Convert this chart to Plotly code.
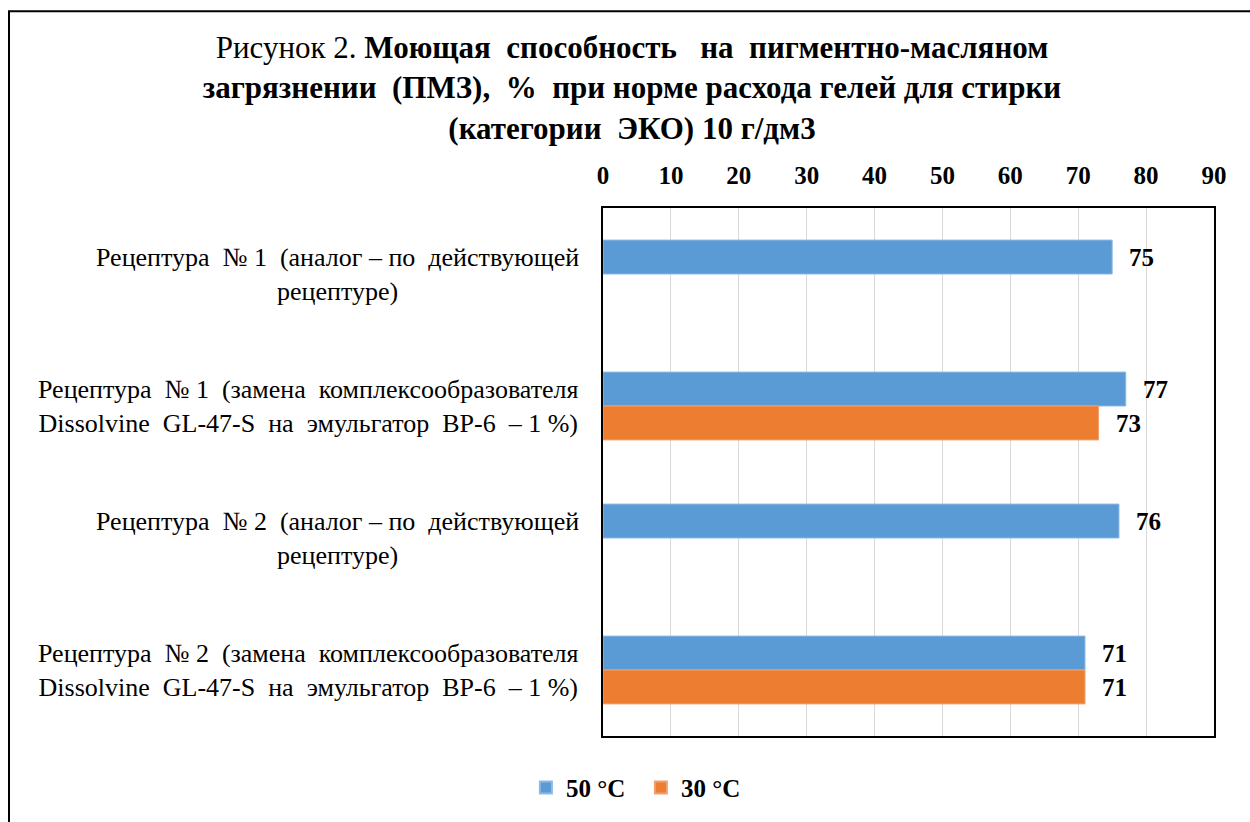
import plotly.graph_objects as go

NB = "\u00a0"

categories = [
    "Рецептура № 1 (аналог – по действующей рецептуре)",
    "Рецептура № 1 (замена комплексообразователя Dissolvine GL-47-S на эмульгатор ВР-6 – 1 %)",
    "Рецептура № 2 (аналог – по действующей рецептуре)",
    "Рецептура № 2 (замена комплексообразователя Dissolvine GL-47-S на эмульгатор ВР-6 – 1 %)",
]
category_labels = [
    "Рецептура" + NB * 2 + "№ 1" + NB * 2 + "(аналог – по" + NB * 2 + "действующей<br>рецептуре)",
    "Рецептура" + NB * 2 + "№ 1" + NB * 2 + "(замена" + NB * 2 + "комплексообразователя<br>Dissolvine" + NB * 2 + "GL-47-S" + NB * 2 + "на" + NB * 2 + "эмульгатор" + NB * 2 + "ВР-6" + NB * 2 + "–" + NB + "1 %)",
    "Рецептура" + NB * 2 + "№ 2" + NB * 2 + "(аналог – по" + NB * 2 + "действующей<br>рецептуре)",
    "Рецептура" + NB * 2 + "№ 2" + NB * 2 + "(замена" + NB * 2 + "комплексообразователя<br>Dissolvine" + NB * 2 + "GL-47-S" + NB * 2 + "на" + NB * 2 + "эмульгатор" + NB * 2 + "ВР-6" + NB * 2 + "–" + NB + "1 %)",
]
series_names = ["50 °C", "30 °C"]
values_50 = [75, 77, 76, 71]
values_30 = [None, 73, None, 71]
x_ticks = [0, 10, 20, 30, 40, 50, 60, 70, 80, 90]

BLUE = "#5B9BD5"
ORANGE = "#ED7D31"
FONT = "Liberation Serif, Times New Roman, serif"

fig = go.Figure()
fig.add_trace(go.Bar(y=categories, x=values_50, name="<b>%s</b>" % series_names[0], orientation="h",
                     marker=dict(color=BLUE, line=dict(width=1, color="#8DB9E6"))))
fig.add_trace(go.Bar(y=categories, x=values_30, name="<b>%s</b>" % series_names[1], orientation="h",
                     marker=dict(color=ORANGE, line=dict(width=1, color="#F2A06E"))))

annotations = []
# data labels
for vals, shift in ((values_50, 17), (values_30, -17)):
    for cat, v in zip(categories, vals):
        if v is None:
            continue
        annotations.append(dict(x=v, y=cat, xref="x", yref="y", text="<b>%d</b>" % v,
                                showarrow=False, xanchor="left", yanchor="middle",
                                xshift=15, yshift=shift,
                                font=dict(family=FONT, size=25, color="#000")))
# category labels
for cat, lab in zip(categories, category_labels):
    annotations.append(dict(x=0, y=cat, xref="paper", yref="y", text=lab, showarrow=False,
                            xanchor="right", yanchor="middle", align="center", xshift=-22,
                            font=dict(family=FONT, size=26, color="#000")))

title_text = ("Рисунок 2. <b>Моющая" + NB + " способность" + NB + NB + " на" + NB + " пигментно-масляном<br>"
              "загрязнении" + NB + " (ПМЗ)," + NB + " %" + NB + " при норме расхода гелей для стирки<br>"
              "(категории" + NB + " ЭКО) 10 г/дм3</b>")

fig.update_layout(
    width=1250, height=822,
    margin=dict(l=603, r=36, t=208, b=85),
    paper_bgcolor="white", plot_bgcolor="white",
    barmode="group", bargap=0.486, bargroupgap=0,
    showlegend=True,
    title=dict(text=title_text, x=632 / 1250, xref="container", xanchor="center",
               y=1 - 58 / 822, yref="container", yanchor="top",
               font=dict(family=FONT, size=31, color="#000")),
    legend=dict(orientation="h", x=0.062, y=-0.096, xanchor="center", yanchor="middle",
                font=dict(family=FONT, size=25, color="#000"), traceorder="normal",
                itemsizing="constant", entrywidth=70, entrywidthmode="pixels"),
    font=dict(family=FONT, color="#000"),
    annotations=annotations,
)
fig.update_xaxes(side="top", range=[0, 90], tickvals=x_ticks,
                 ticktext=["<b>%d</b>" % t for t in x_ticks],
                 showgrid=True, gridcolor="#D9D9D9", gridwidth=1,
                 showline=True, linecolor="#000", linewidth=2, mirror=True,
                 zeroline=False, ticks="", ticklabelstandoff=12,
                 tickfont=dict(family=FONT, size=25, color="#000"))
fig.update_yaxes(autorange="reversed", showticklabels=False, showgrid=False,
                 showline=True, linecolor="#000", linewidth=2, mirror=True, ticks="")

# outer frame of the figure
fig.add_shape(type="rect", xref="paper", yref="paper",
              x0=(9 - 603) / 611, x1=(1262 - 603) / 611,
              y0=(737 - 835) / 529, y1=(737 - 11) / 529,
              line=dict(color="#000", width=2), fillcolor="rgba(0,0,0,0)", layer="below")

fig.write_html("out.html")
